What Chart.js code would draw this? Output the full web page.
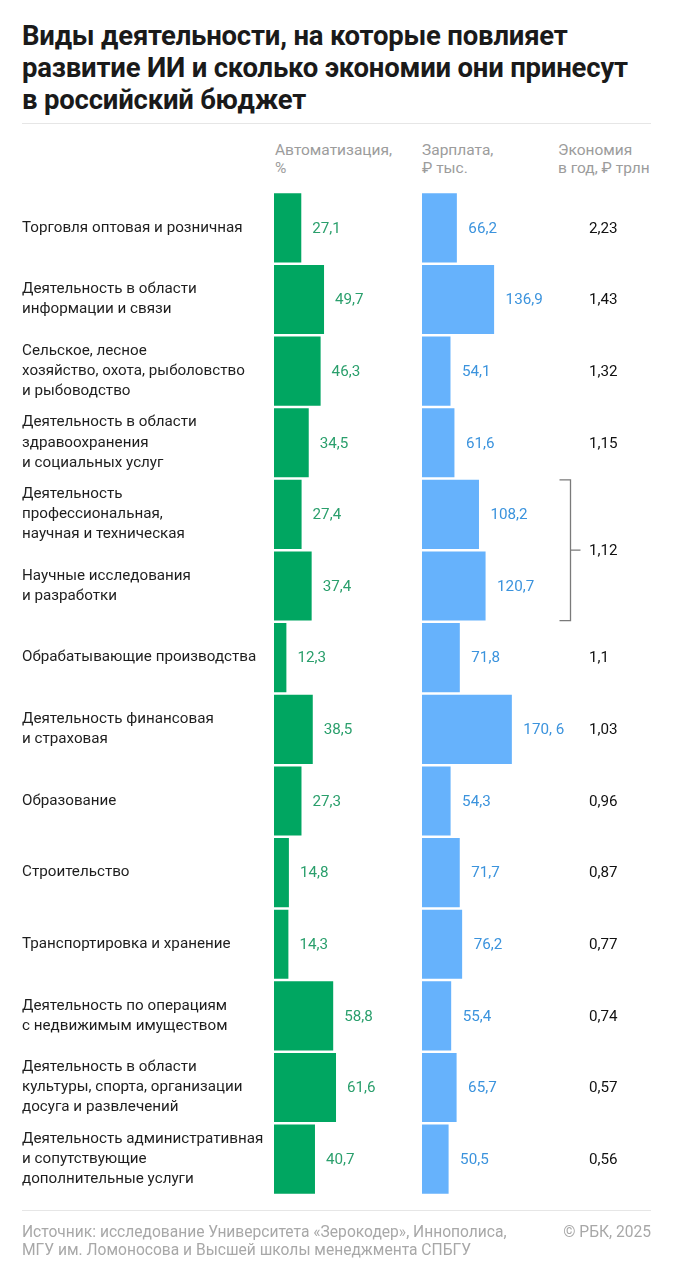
<!DOCTYPE html>
<html lang="ru">
<head>
<meta charset="utf-8">
<script src="https://cdn.jsdelivr.net/npm/chart.js@4.4.1/dist/chart.umd.min.js"></script>
<style>
  html, body { margin: 0; padding: 0; background: #fff; }
  body { width: 673px; height: 1280px; position: relative; overflow: hidden; font-family: Roboto, "Noto Sans", sans-serif; }
  #c { position: absolute; left: 0; top: 0; }
  .t { position: absolute; left: 22px; top: 20px; font-size: 27.5px; font-weight: 700; line-height: 32px; color: #1a1a1a; letter-spacing: -0.2px; }
  .sep { position: absolute; left: 22px; width: 629px; height: 1px; background: #e6e6e6; }
  .h { position: absolute; top: 141px; font-size: 15.5px; line-height: 18px; color: #9c9c9c; }
  .f { position: absolute; top: 1223px; font-size: 15.6px; line-height: 18px; color: #a8a8a8; }
</style>
</head>
<body>
<div class="t">Виды деятельности, на которые повлияет<br>развитие ИИ и сколько экономии они принесут<br>в российский бюджет</div>
<div class="sep" style="top:123px"></div>
<div class="h" style="left:275px">Автоматизация,<br>%</div>
<div class="h" style="left:422px">Зарплата,<br>₽ тыс.</div>
<div class="h" style="left:558px">Экономия<br>в год, ₽ трлн</div>
<canvas id="c" width="673" height="1280" style="width:673px;height:1280px"></canvas>
<div class="sep" style="top:1210px"></div>
<div class="f" style="left:22px">Источник: исследование Университета «Зерокодер», Иннополиса,<br>МГУ им. Ломоносова и Высшей школы менеджмента СПБГУ</div>
<div class="f" style="right:22px;text-align:right">© РБК, 2025</div>
<script>
const categories = [
  ["Торговля оптовая и розничная"],
  ["Деятельность в области", "информации и связи"],
  ["Сельское, лесное", "хозяйство, охота, рыболовство", "и рыбоводство"],
  ["Деятельность в области", "здравоохранения", "и социальных услуг"],
  ["Деятельность", "профессиональная,", "научная и техническая"],
  ["Научные исследования", "и разработки"],
  ["Обрабатывающие производства"],
  ["Деятельность финансовая", "и страховая"],
  ["Образование"],
  ["Строительство"],
  ["Транспортировка и хранение"],
  ["Деятельность по операциям", "с недвижимым имуществом"],
  ["Деятельность в области", "культуры, спорта, организации", "досуга и развлечений"],
  ["Деятельность административная", "и сопутствующие", "дополнительные услуги"]
];
const automation = [27.1, 49.7, 46.3, 34.5, 27.4, 37.4, 12.3, 38.5, 27.3, 14.8, 14.3, 58.8, 61.6, 40.7];
const salary = [66.2, 136.9, 54.1, 61.6, 108.2, 120.7, 71.8, 170.6, 54.3, 71.7, 76.2, 55.4, 65.7, 50.5];
const salaryLabels = ["66,2", "136,9", "54,1", "61,6", "108,2", "120,7", "71,8", "170, 6", "54,3", "71,7", "76,2", "55,4", "65,7", "50,5"];
const economy = [2.23, 1.43, 1.32, 1.15, 1.12, 1.12, 1.1, 1.03, 0.96, 0.87, 0.77, 0.74, 0.57, 0.56];
const mergedEconomyRows = [4, 5];

const fmt = v => String(v).replace('.', ',');
const GREEN = '#00a661', GREEN_TXT = '#2a9f6c';
const BLUE = '#66b2fc', BLUE_TXT = '#3b93dd';
const FONT = 'Roboto, "Noto Sans", sans-serif';

const valuePlugin = {
  id: 'values',
  afterDatasetsDraw(chart) {
    const ctx = chart.ctx;
    ctx.save();
    ctx.font = '15.2px ' + FONT;
    ctx.textBaseline = 'middle';
    ctx.textAlign = 'left';
    chart.getDatasetMeta(0).data.forEach((bar, i) => {
      ctx.fillStyle = GREEN_TXT;
      ctx.fillText(fmt(automation[i]), bar.x + 11, bar.y + 1);
    });
    chart.getDatasetMeta(1).data.forEach((bar, i) => {
      ctx.fillStyle = BLUE_TXT;
      ctx.fillText(salaryLabels[i], bar.x + 11.5, bar.y + 1);
    });
    const bars = chart.getDatasetMeta(1).data;
    const ex = chart.chartArea.right + 19;
    ctx.fillStyle = '#111';
    economy.forEach((v, i) => {
      if (mergedEconomyRows.includes(i)) return;
      ctx.fillText(fmt(v), ex, bars[i].y + 1);
    });
    const first = bars[mergedEconomyRows[0]], last = bars[mergedEconomyRows[mergedEconomyRows.length - 1]];
    const top = first.y - first.height / 2, bottom = last.y + last.height / 2;
    const mid = (top + bottom) / 2;
    const bx = chart.chartArea.right + 0.5;
    ctx.strokeStyle = '#7a7a7a';
    ctx.lineWidth = 1.3;
    ctx.beginPath();
    ctx.moveTo(bx - 11, top); ctx.lineTo(bx, top); ctx.lineTo(bx, bottom); ctx.lineTo(bx - 11, bottom);
    ctx.moveTo(bx, mid); ctx.lineTo(bx + 10, mid);
    ctx.stroke();
    ctx.fillText(fmt(economy[mergedEconomyRows[0]]), ex, mid + 1);
    ctx.restore();
  }
};

new Chart(document.getElementById('c'), {
  type: 'bar',
  data: {
    labels: categories,
    datasets: [
      { data: automation, xAxisID: 'xa', backgroundColor: GREEN, barPercentage: 0.965, categoryPercentage: 1, grouped: false },
      { data: salary, xAxisID: 'xs', backgroundColor: BLUE, barPercentage: 0.965, categoryPercentage: 1, grouped: false }
    ]
  },
  options: {
    indexAxis: 'y',
    responsive: false,
    animation: false,
    events: [],
    layout: { padding: { top: 192, bottom: 85, left: 22, right: 103 } },
    plugins: { legend: { display: false }, tooltip: { enabled: false } },
    scales: {
      y: {
        position: 'left',
        grid: { display: false },
        border: { display: false },
        afterFit(scale) { scale.width = 252; },
        ticks: {
          autoSkip: false,
          crossAlign: 'far',
          padding: 0,
          color: '#1e1e1e',
          font: { family: FONT, size: 15.2, lineHeight: 1.32 }
        }
      },
      xa: { type: 'linear', position: 'bottom', stack: 'cols', stackWeight: 1, min: 0, max: 147, display: false },
      xs: { type: 'linear', position: 'bottom', stack: 'cols', stackWeight: 1, min: 0, max: 281, display: false }
    }
  },
  plugins: [valuePlugin]
});
</script>
</body>
</html>
